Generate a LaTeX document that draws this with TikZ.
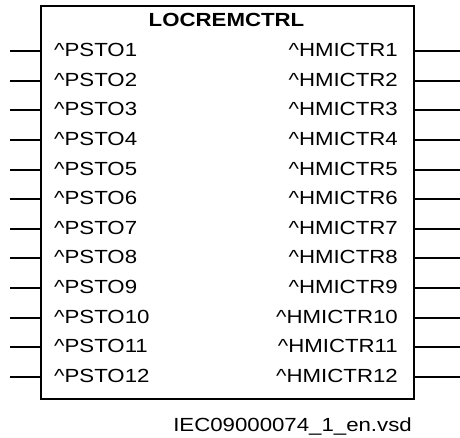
\documentclass[tikz,border=0pt]{standalone}
\usepackage{fontspec}
\setmainfont{Liberation Sans}[FakeStretch=1.17]
\usetikzlibrary{positioning}

\begin{document}
\begin{tikzpicture}[x=1pt,y=-1pt,
bloque/.style={draw,line width=2pt,minimum width=373pt,minimum height=393pt,inner sep=0pt,anchor=north west},
pinlinea/.style={line width=2pt},
etiqueta/.style={font=\fontsize{19}{22}\selectfont,inner sep=0pt},
titulo/.style={font=\fontsize{19}{22}\selectfont\bfseries,inner sep=0pt}
]
\useasboundingbox (0,0) rectangle (460,438);
\node[bloque] (blk) at (40,5) {};
\node[titulo,anchor=base] (tit) at (226.5,27) {LOCREMCTRL};

\foreach \i in {1,...,12}{
  \pgfmathsetmacro{\yy}{51+(\i-1)*29.64}
  \coordinate (in\i) at (10,\yy);
  \coordinate (out\i) at (460,\yy);
  \node[etiqueta,anchor=base west] (psto\i) at (54,\yy+5.5) {\textasciicircum PSTO\i};
  \node[etiqueta,anchor=base east] (hmi\i) at (398,\yy+5.5) {\textasciicircum HMICTR\i};
  \draw[pinlinea] (in\i) -- (in\i -| blk.west);
  \draw[pinlinea] (out\i -| blk.east) -- (out\i);
}

\node[etiqueta,anchor=base east] (archivo) at (412,431.7) {IEC09000074\_1\_en.vsd};
\end{tikzpicture}
\end{document}
